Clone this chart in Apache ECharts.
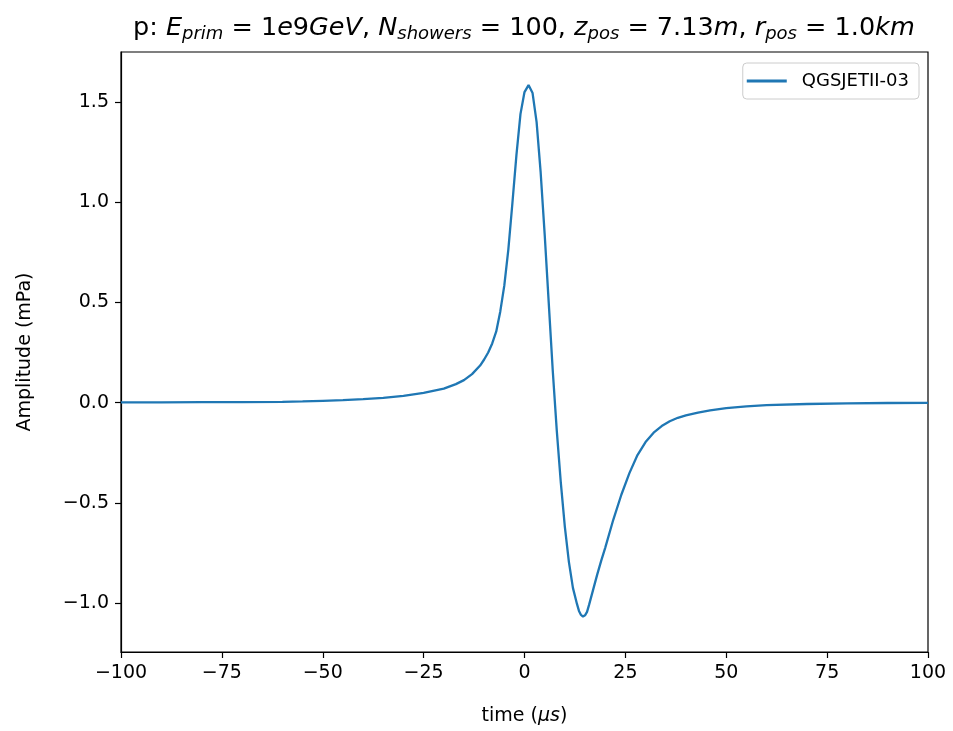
<!DOCTYPE html>
<html>
<head>
<meta charset="utf-8">
<script src="https://cdn.jsdelivr.net/npm/echarts@6/dist/echarts.min.js"></script>
<style>
html,body{margin:0;padding:0;background:#fff;}
#chart{width:953px;height:731px;}
</style>
</head>
<body>
<div id="chart"></div>
<script>
// time in microseconds
var timeUs = [-100,-90,-80,-70,-60,-55,-50,-45,-40,-35,-30,-25,-20,-17,-15,-13,-11,-10,-9,-8,-7,-6,-5,-4,-3,-2,-1,0,1,2,3,4,5,6,7,8,9,10,11,12,13,13.5,14,14.5,15,15.5,16,17,18,19,20,22,24,26,28,30,32,34,36,38,40,43,46,50,55,60,70,80,90,100];
// amplitude in mPa (QGSJETII-03)
var amplitude = [0.001,0.001,0.002,0.002,0.004,0.006,0.009,0.012,0.017,0.024,0.033,0.048,0.070,0.092,0.112,0.142,0.185,0.215,0.250,0.295,0.355,0.455,0.585,0.765,0.995,1.235,1.440,1.550,1.585,1.545,1.400,1.150,0.840,0.500,0.160,-0.140,-0.400,-0.620,-0.795,-0.925,-1.005,-1.040,-1.060,-1.068,-1.062,-1.045,-1.010,-0.935,-0.860,-0.790,-0.725,-0.585,-0.460,-0.352,-0.262,-0.197,-0.150,-0.117,-0.093,-0.076,-0.064,-0.050,-0.039,-0.028,-0.019,-0.013,-0.007,-0.004,-0.002,-0.001];
var seriesName = 'QGSJETII-03';
var xTicks = [-100,-75,-50,-25,0,25,50,75,100];
var yTicks = [-1.0,-0.5,0.0,0.5,1.0,1.5];

var pts = timeUs.map(function(t,i){return [t, amplitude[i]];});
var FONT = 'DejaVu Sans';
function minus(s){return String(s).replace('-', '\u2212');}

var chart = echarts.init(document.getElementById('chart'), null, {renderer:'canvas'});
var sub = {fontFamily:FONT, fontSize:18, fontStyle:'italic', color:'#000', padding:[12,0,0,0]};
var nrm = {fontFamily:FONT, fontSize:25.5, color:'#000'};
var ita = {fontFamily:FONT, fontSize:25.5, fontStyle:'italic', color:'#000'};
chart.setOption({
  animation:false,
  backgroundColor:'#fff',
  title:{
    left:133, top:13, padding:0,
    text:'{n|p: }{i|E}{s|prim}{n| = 1}{i|e}{n|9}{i|GeV}{n|, }{i|N}{s|showers}{n| = 100, }{i|z}{s|pos}{n| = 7.13}{i|m}{n|, }{i|r}{s|pos}{n| = 1.0}{i|km}',
    textStyle:{fontFamily:FONT, fontSize:25.5, fontWeight:'normal', color:'#000', rich:{n:nrm, i:ita, s:sub}}
  },
  legend:{
    right:34, top:63, orient:'vertical',
    data:[{name:seriesName}],
    icon:'rect', itemWidth:40, itemHeight:3, itemGap:10,
    padding:[9,10,9,4],
    borderColor:'#cccccc', borderWidth:1, borderRadius:4, backgroundColor:'#fff',
    textStyle:{fontFamily:FONT, fontSize:18, color:'#000', padding:[0,0,0,10]}
  },
  grid:{left:121, right:25, top:52, bottom:78, show:true, borderColor:'#000', borderWidth:1.2, backgroundColor:'transparent'},
  xAxis:{
    type:'value', min:-100, max:100, interval:25,
    name:'{n|time (}{i|μs}{n|)}', nameLocation:'middle', nameGap:55,
    nameTextStyle:{fontFamily:FONT, fontSize:19, color:'#000', rich:{n:{fontFamily:FONT,fontSize:19,color:'#000'}, i:{fontFamily:FONT,fontSize:19,fontStyle:'italic',color:'#000'}}},
    axisLine:{show:true, onZero:false, lineStyle:{color:'#000', width:1.2}},
    axisTick:{show:true, inside:false, length:6, lineStyle:{color:'#000', width:1.2}},
    axisLabel:{fontFamily:FONT, fontSize:19, color:'#000', margin:12, formatter:function(v){return minus(v);}},
    splitLine:{show:false}
  },
  yAxis:{
    type:'value', min:-1.245, max:1.75,
    name:'Amplitude (mPa)', nameLocation:'middle', nameGap:86, nameRotate:90,
    nameTextStyle:{fontFamily:FONT, fontSize:19, color:'#000'},
    axisLine:{show:true, onZero:false, lineStyle:{color:'#000', width:1.2}},
    axisTick:{show:true, inside:false, length:6, customValues:yTicks, lineStyle:{color:'#000', width:1.2}},
    axisLabel:{fontFamily:FONT, fontSize:19, color:'#000', margin:12, customValues:yTicks, formatter:function(v){return minus(v.toFixed(1));}},
    splitLine:{show:false}
  },
  series:[{
    name:seriesName, type:'line', data:pts, showSymbol:false, symbol:'none',
    lineStyle:{color:'#1f77b4', width:2.3}, itemStyle:{color:'#1f77b4'}
  }]
});
</script>
</body>
</html>
